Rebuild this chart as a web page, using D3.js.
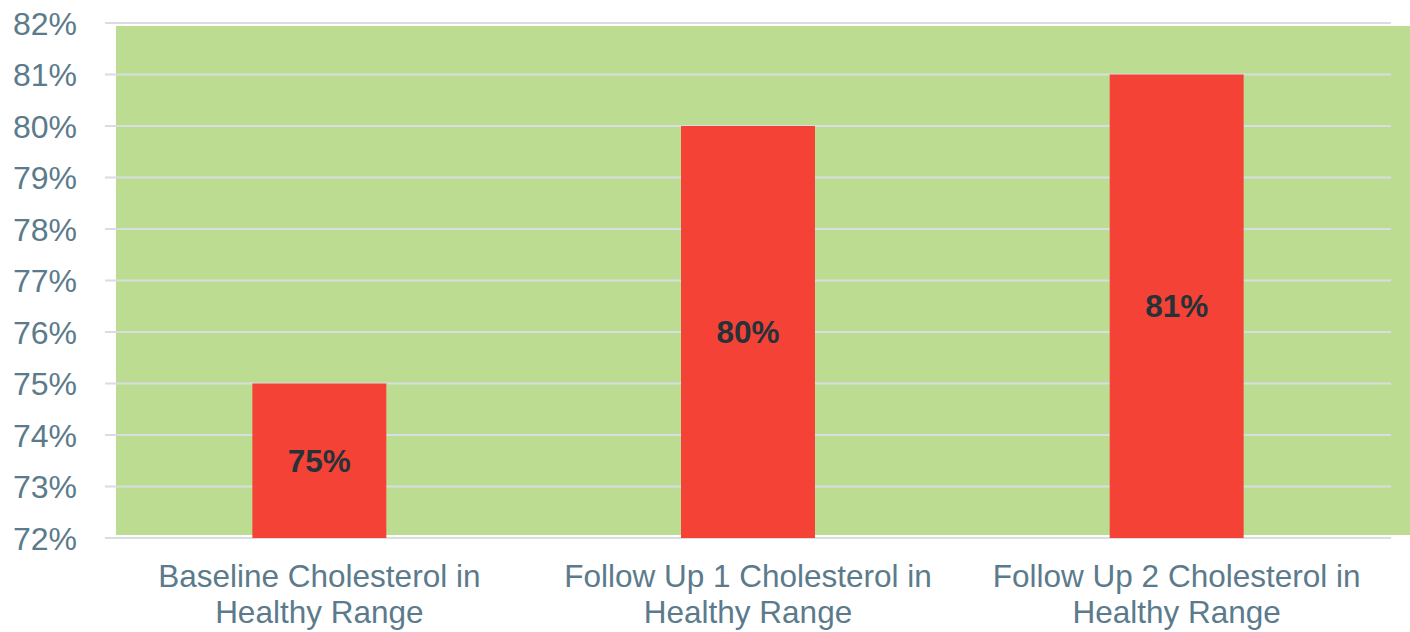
<!DOCTYPE html>
<html>
<head>
<meta charset="utf-8">
<script src="https://cdn.jsdelivr.net/npm/d3@7"></script>
<style>
  body { margin: 0; background: #fff; }
  svg text { font-family: "Liberation Sans", Arial, sans-serif; }
</style>
</head>
<body>
<div id="chart"></div>
<script>
// data
const categories = [
  ["Baseline Cholesterol in", "Healthy Range"],
  ["Follow Up 1 Cholesterol in", "Healthy Range"],
  ["Follow Up 2 Cholesterol in", "Healthy Range"]
];
const values = [75, 80, 81];
const yTicks = [72, 73, 74, 75, 76, 77, 78, 79, 80, 81, 82];

const width = 1410, height = 632;
const margin = { top: 23, right: 19, bottom: 94, left: 105 };

const svg = d3.select("#chart").append("svg")
  .attr("width", width)
  .attr("height", height);

const x = d3.scaleBand()
  .domain(d3.range(categories.length))
  .range([margin.left, width - margin.right])
  .paddingInner(0.6875)
  .paddingOuter(0.34375);

const y = d3.scaleLinear()
  .domain([72, 82])
  .range([height - margin.bottom, margin.top]);

// green background panel
svg.append("rect")
  .attr("x", margin.left + 11)
  .attr("y", y(82) + 3)
  .attr("width", width - margin.left - 11)
  .attr("height", y(72) - y(82) - 6)
  .attr("fill", "#bcdc92");

// gridlines
svg.append("g")
  .selectAll("line")
  .data(yTicks)
  .join("line")
  .attr("x1", margin.left)
  .attr("x2", width - margin.right)
  .attr("y1", d => y(d))
  .attr("y2", d => y(d))
  .attr("stroke", "#d8dde3")
  .attr("stroke-width", 2);

// y tick labels
svg.append("g")
  .selectAll("text")
  .data(yTicks)
  .join("text")
  .attr("x", 77)
  .attr("y", d => y(d) + 11.5)
  .attr("text-anchor", "end")
  .attr("font-size", 32)
  .attr("fill", "#5b7b8c")
  .text(d => d + "%");

// bars
svg.append("g")
  .selectAll("rect")
  .data(values)
  .join("rect")
  .attr("x", (d, i) => x(i))
  .attr("y", d => y(d))
  .attr("width", x.bandwidth())
  .attr("height", d => y(72) - y(d))
  .attr("fill", "#f44336");

// value labels
svg.append("g")
  .selectAll("text")
  .data(values)
  .join("text")
  .attr("x", (d, i) => x(i) + x.bandwidth() / 2)
  .attr("y", d => (y(d) + y(72)) / 2 + 11)
  .attr("text-anchor", "middle")
  .attr("font-size", 31.5)
  .attr("font-weight", "bold")
  .attr("fill", "#263238")
  .text(d => d + "%");

// category labels
const cat = svg.append("g")
  .selectAll("text")
  .data(categories)
  .join("text")
  .attr("text-anchor", "middle")
  .attr("font-size", 31.5)
  .attr("fill", "#5b7b8c");

cat.selectAll("tspan")
  .data((d, i) => d.map(line => ({ line, i })))
  .join("tspan")
  .attr("x", d => x(d.i) + x.bandwidth() / 2)
  .attr("y", (d, j) => 587 + j * 36)
  .text(d => d.line);
</script>
</body>
</html>
